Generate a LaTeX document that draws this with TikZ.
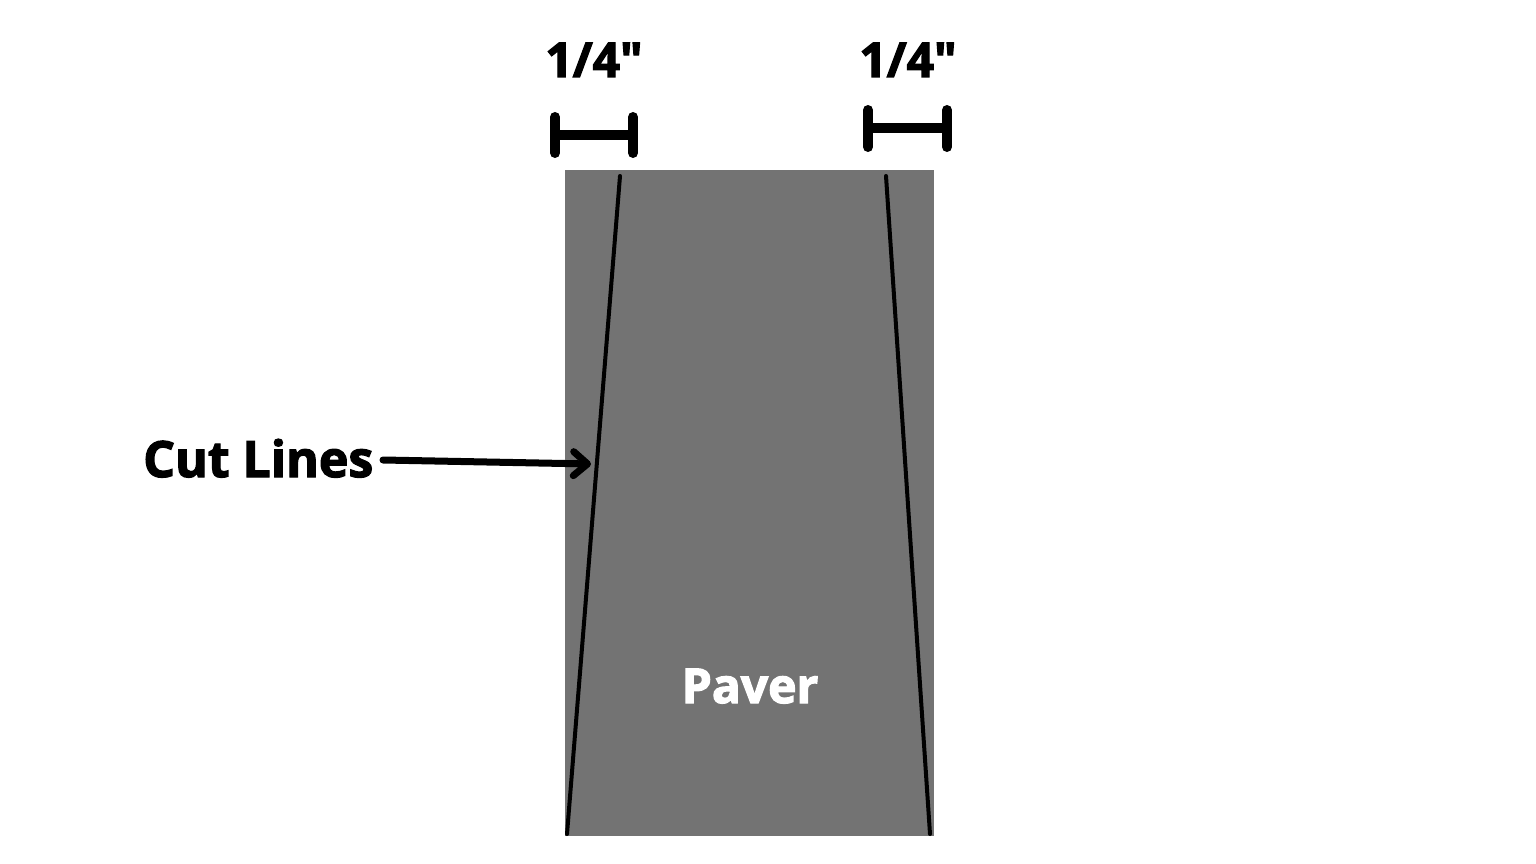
\documentclass[tikz,border=0pt]{standalone}
\usepackage{fontspec}
\newfontfamily\osb{Open Sans}[BoldFeatures={FakeBold=2.5}]
\usetikzlibrary{arrows.meta}
\definecolor{paver}{HTML}{737373}
\tikzset{
  lbl/.style={font=\osb\fontsize{48}{52}\selectfont\bfseries, inner sep=0pt, anchor=base},
  cutline/.style={line width=4pt, line cap=round},
  bar/.style={line width=10pt, line cap=round},
}
\begin{document}
\begin{tikzpicture}[x=1pt,y=-1pt]
\useasboundingbox[fill=white] (0,0) rectangle (1536,864);
\fill[paver] (565,170) rectangle (934,836);
% cut lines
\coordinate (lt) at (620,176);
\coordinate (lb) at (567,834);
\coordinate (rt) at (886,176);
\coordinate (rb) at (930,834);
\draw[cutline] (lt) -- (lb);
\draw[cutline] (rt) -- (rb);
% brackets
\coordinate (a1) at (555,117); \coordinate (a2) at (555,153);
\coordinate (a3) at (633,117); \coordinate (a4) at (633,153);
\coordinate (a5) at (555,135); \coordinate (a6) at (633,135);
\draw[bar] (a1) -- (a2); \draw[bar] (a3) -- (a4);
\draw[line width=10pt] (a5) -- (a6);
\coordinate (b1) at (868,110); \coordinate (b2) at (868,147);
\coordinate (b3) at (947,110); \coordinate (b4) at (947,147);
\coordinate (b5) at (868,128); \coordinate (b6) at (947,128);
\draw[bar] (b1) -- (b2); \draw[bar] (b3) -- (b4);
\draw[line width=10pt] (b5) -- (b6);
% labels
\node[lbl] (q1) at (594,77) {1/4"};
\node[lbl] (q2) at (908,77) {1/4"};
\node[lbl, anchor=base west, font=\osb\fontsize{50}{54}\selectfont\bfseries] (cut) at (143,477) {Cut Lines};
\node[lbl, text=white, font=\osb\fontsize{48}{52}\selectfont\bfseries] (paver) at (750,703) {Paver};
% arrow
\coordinate (tail) at (383,460);
\coordinate (tip) at (591,464);
\draw[line width=7pt, line cap=round, -{Straight Barb[length=14pt,width=24pt,line width=7pt, round]}] (tail) -- (tip);
\end{tikzpicture}
\end{document}
